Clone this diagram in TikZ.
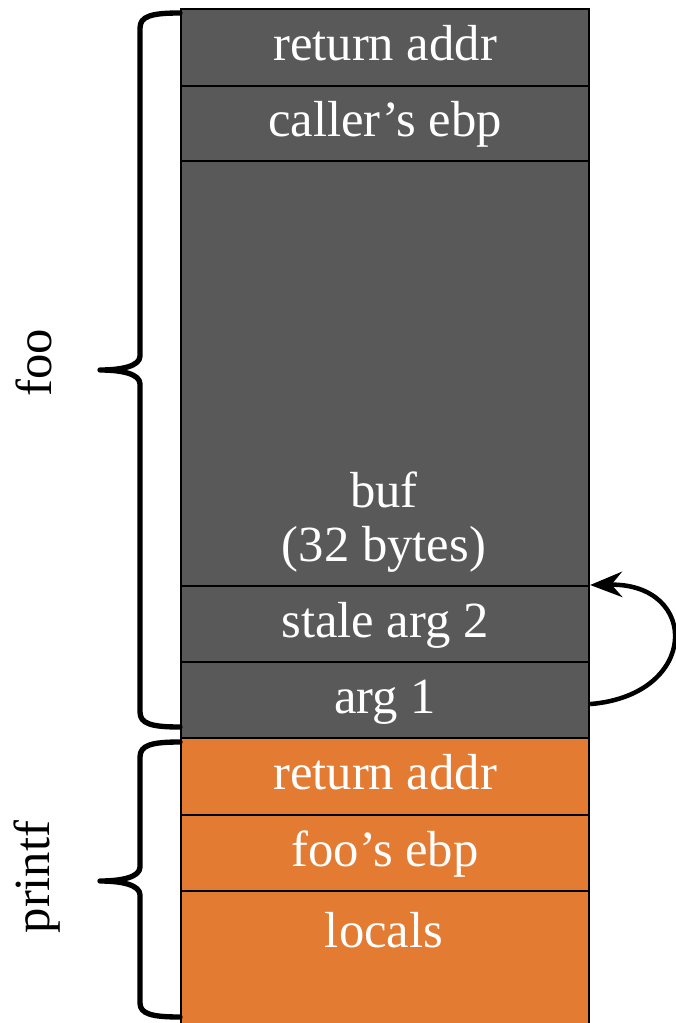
\documentclass[tikz,border=0pt]{standalone}
\usepackage{fontspec}
\setmainfont{Liberation Serif}
\usetikzlibrary{arrows.meta}
\definecolor{stackgray}{HTML}{585958}
\definecolor{stackorange}{HTML}{E37B33}
\begin{document}
\begin{tikzpicture}[x=0.75pt,y=-0.75pt,
  cell/.style={draw=black, line width=1.6pt, minimum width=306pt, inner sep=0pt,
    anchor=north west, text=white, font=\fontsize{38}{44}\selectfont,
    text height=25pt, text depth=5pt},
  graycell/.style={cell, fill=stackgray},
  orangecell/.style={cell, fill=stackorange},
  celltext/.style={text=white, font=\fontsize{38}{44}\selectfont, inner sep=0pt, align=center},
  sidelabel/.style={rotate=90, font=\fontsize{38}{44}\selectfont, inner sep=0pt},
  brace/.style={line width=4pt, line join=round, line cap=round},
  loop/.style={line width=3.4pt, -{Stealth[length=24pt, width=19pt, inset=8pt]}}]
\useasboundingbox (0,0) rectangle (675,1023);
\begin{scope}
\clip (0,0) rectangle (675,1023);
\node[graycell, minimum height=57.75pt] (ret1) at (180,8) {return addr};
\node[graycell, minimum height=56.25pt] (ebp1) at (180,85) {caller’s ebp};
\node[graycell, minimum height=318.75pt] (buf) at (180,160) {};
\node[graycell, minimum height=57pt] (stale) at (180,585) {stale arg 2};
\node[graycell, minimum height=57pt] (arg1) at (180,661) {arg 1};
\node[orangecell, minimum height=57.75pt] (ret2) at (180,737) {return addr};
\node[orangecell, minimum height=57pt] (ebp2) at (180,814) {foo’s ebp};
\node[orangecell, minimum height=110pt] (locals) at (180,890) {};
\end{scope}
\node[celltext] (buftext) at (384,522) {buf\\[-4pt](32 bytes)};
\node[celltext] (localstext) at (384,930) {locals};

% braces
\draw[brace] (180,13) .. controls (152,13) and (140,16) .. (140,28) -- (140,356)
  .. controls (140,366) and (122,370) .. (100,370)
  .. controls (122,370) and (140,374) .. (140,384) -- (140,712)
  .. controls (140,724) and (152,727) .. (180,727);
\draw[brace] (180,742) .. controls (152,742) and (140,745) .. (140,757) -- (140,867)
  .. controls (140,877) and (122,881) .. (100,881)
  .. controls (122,881) and (140,885) .. (140,895) -- (140,1003)
  .. controls (140,1014) and (152,1017) .. (180,1017);

\node[sidelabel] (foolabel) at (34,363) {foo};
\node[sidelabel] (printflabel) at (37,877) {printf};

% loop arrow
\draw[loop] ([yshift=-3pt]arg1.east) .. controls (700,695) and (700,583) .. (stale.north east);
\end{tikzpicture}
\end{document}
